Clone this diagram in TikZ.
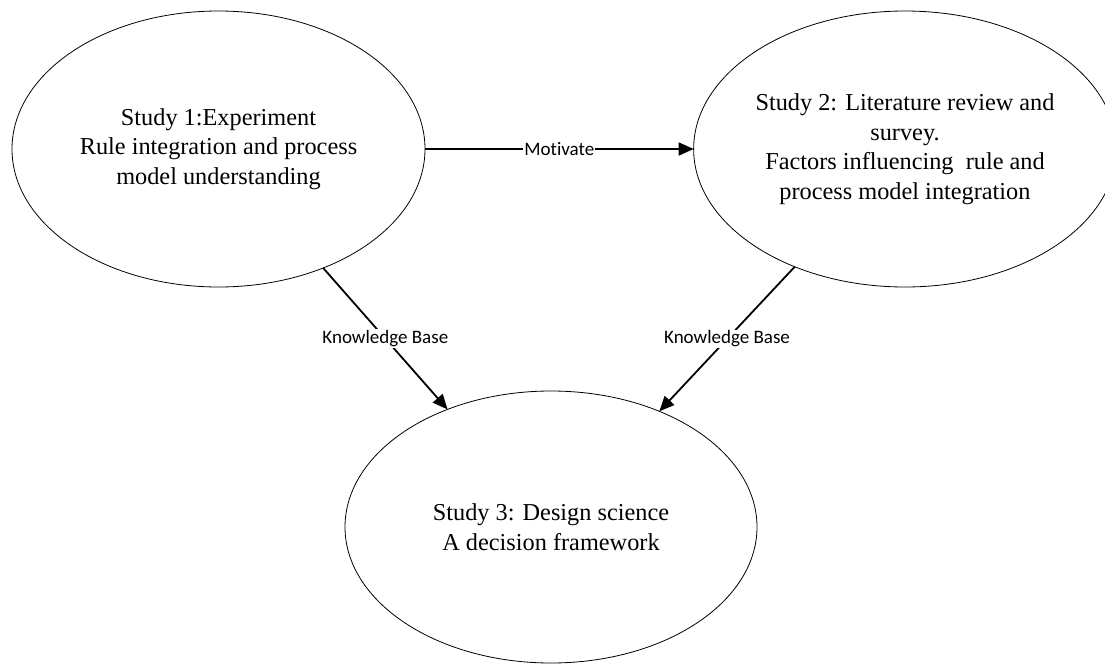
\documentclass[tikz,border=0pt]{standalone}
\usepackage{fontspec}
\setmainfont{Liberation Serif}
\newfontfamily\labelfont[Ligatures=NoCommon]{Carlito}
\usetikzlibrary{shapes.geometric,arrows.meta}

\begin{document}
\begin{tikzpicture}[x=1pt,y=-1pt,
  study/.style={draw,ellipse,line width=0.8pt,inner sep=0pt,outer sep=0pt,
    minimum width=#1,align=center,font=\fontsize{24.3}{29.5}\selectfont},
  flow/.style={line width=1.8pt,-{Triangle[length=15pt,width=13pt]}},
  tag/.style={fill=white,inner sep=1pt,font=\labelfont\fontsize{19}{22}\selectfont}]
  \useasboundingbox (0,0) rectangle (1105,664);

  \node[study=413pt,minimum height=276pt] (e1) at (218.5,149)
    {Study 1:Experiment\\Rule integration and process\\model understanding};
  \node[study=412pt,minimum height=276pt] (e2) at (905,149)
    {Study 2: Literature review and\\survey.\\Factors influencing\ \ rule and\\process model integration};
  \node[study=412pt,minimum height=272pt] (e3) at (551,527)
    {Study 3: Design science\\A decision framework};

  \draw[flow] (e1.east) -- node[tag]{Motivate} (e2.west);
  \draw[flow] (e1) -- node[tag]{Knowledge Base} (e3);
  \draw[flow] (e2) -- node[tag]{Knowledge Base} (e3);
\end{tikzpicture}
\end{document}
